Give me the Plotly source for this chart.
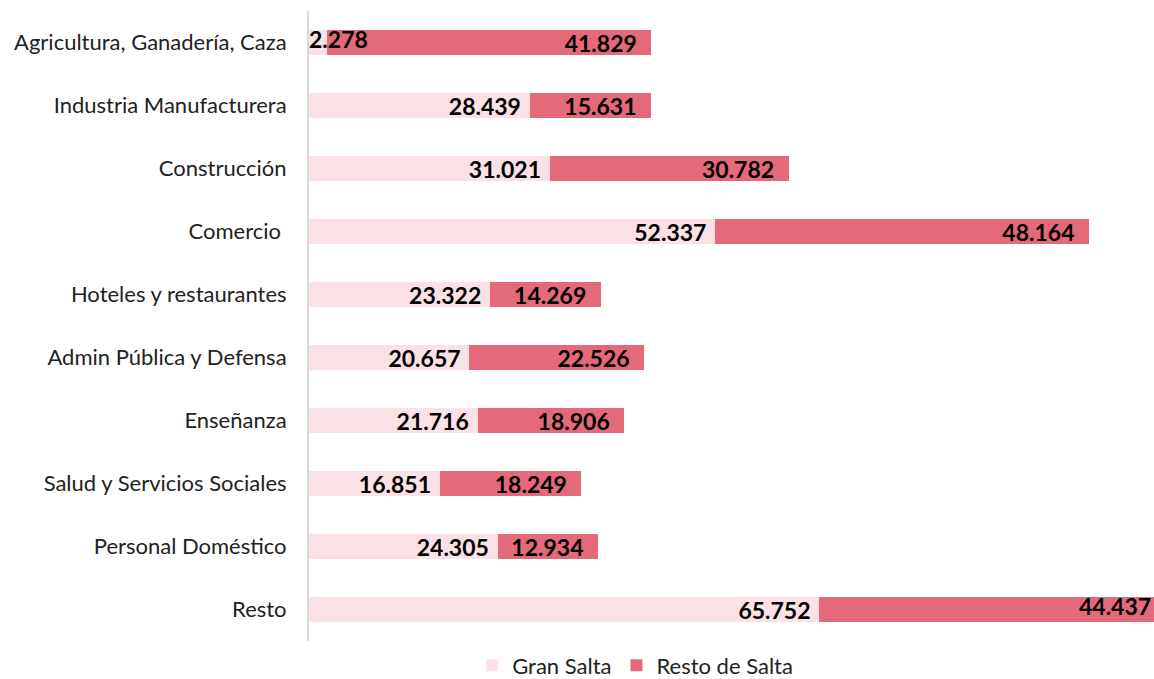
import plotly.graph_objects as go

categories = ["Agricultura, Ganadería, Caza", "Industria Manufacturera", "Construcción",
              "Comercio ", "Hoteles y restaurantes", "Admin Pública y Defensa", "Enseñanza",
              "Salud y Servicios Sociales", "Personal Doméstico", "Resto"]
gran_salta = [2.278, 28.439, 31.021, 52.337, 23.322, 20.657, 21.716, 16.851, 24.305, 65.752]
resto_salta = [41.829, 15.631, 30.782, 48.164, 14.269, 22.526, 18.906, 18.249, 12.934, 44.437]

XMAX = 108.88  # visible end of the value axis (longest bar is cut there)
FONT = "Lato"
LABEL_FONT = dict(family=FONT, size=23, color="black", weight="bold")
MIN_FIT = 5.0  # values too small for an inside label

totals = [a + b for a, b in zip(gran_salta, resto_salta)]
gs_text = [f"{v:.3f}\u2005" if v >= MIN_FIT else "" for v in gran_salta]
rs_text = [f"{v:.3f}\u2002" if t <= XMAX else "" for v, t in zip(resto_salta, totals)]
small_idx = [i for i, v in enumerate(gran_salta) if v < MIN_FIT]
cut_idx = [i for i, t in enumerate(totals) if t > XMAX]

fig = go.Figure()
fig.add_trace(go.Bar(
    y=categories, x=gran_salta, orientation="h", name="Gran Salta",
    marker=dict(color="#FAE1E5", line=dict(width=0)),
    text=gs_text, textposition="inside", insidetextanchor="end",
    constraintext="none", textangle=0, textfont=LABEL_FONT,
))
fig.add_trace(go.Bar(
    y=categories, x=resto_salta, orientation="h", name="Resto de Salta",
    marker=dict(color="#E46A7B", line=dict(width=0)),
    text=rs_text, textposition="inside", insidetextanchor="end",
    constraintext="none", textangle=0, textfont=LABEL_FONT,
))
# labels of bars too short to hold them: written from the axis origin
fig.add_trace(go.Scatter(
    y=[categories[i] for i in small_idx], x=[0 for _ in small_idx],
    mode="text", text=[f"{gran_salta[i]:.3f}" for i in small_idx],
    textposition="middle right", textfont=LABEL_FONT,
    showlegend=False, hoverinfo="skip", cliponaxis=False,
))
# labels of bars cut at the axis end: written at the visible end
fig.add_trace(go.Scatter(
    y=[categories[i] for i in cut_idx], x=[XMAX for _ in cut_idx],
    mode="text", text=[f"{resto_salta[i]:.3f}\u2009" for i in cut_idx],
    textposition="middle left", textfont=LABEL_FONT,
    showlegend=False, hoverinfo="skip", cliponaxis=False,
))
fig.update_layout(
    barmode="stack", bargap=0.6,
    width=1154, height=679,
    margin=dict(l=309, r=0, t=0, b=0, autoexpand=False),
    paper_bgcolor="white", plot_bgcolor="white",
    font=dict(family=FONT, size=22, color="#222"),
    legend=dict(orientation="h", x=0.386, xanchor="center",
                y=0.02, yanchor="middle", borderwidth=0,
                font=dict(size=22, family=FONT), traceorder="normal"),
)
fig.update_xaxes(range=[0, XMAX], showgrid=False, showticklabels=False, zeroline=False, showline=False)
fig.update_yaxes(autorange="reversed", showgrid=False, showline=True, linecolor="#D9D9D9", linewidth=2,
                 domain=[1 - 641 / 679, 1 - 11 / 679],
                 ticks="", ticklabelstandoff=16, tickfont=dict(family=FONT, size=22, color="#222"))
fig.write_html("out.html", config={"displayModeBar": False},
               post_script="document.body.style.margin='0';")
